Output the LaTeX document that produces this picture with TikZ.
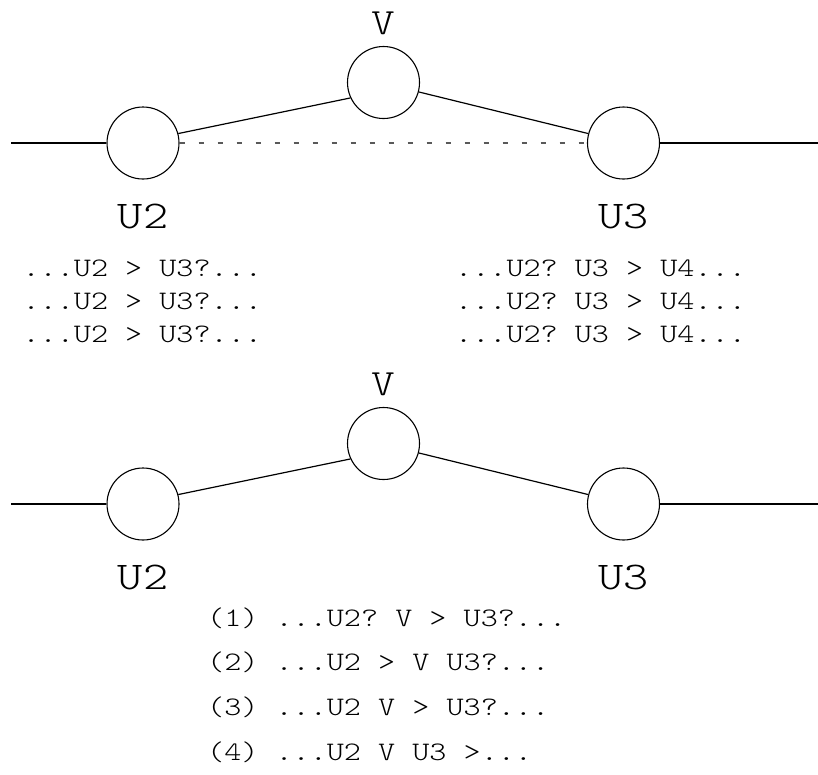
\documentclass[tikz,border=0pt]{standalone}
\usepackage{fontspec}
% light typewriter face, widened to a Courier-like set width
\newfontfamily\typefont{lmmonolt10-regular}[Extension=.otf,FakeStretch=1.22]
\begin{document}
\begin{tikzpicture}[x=1pt,y=-1pt,
  vertex/.style={circle,draw,line width=1.1pt,minimum size=72pt,inner sep=0pt},
  edge/.style={line width=1.2pt},
  hint/.style={dash pattern=on 5pt off 14pt,line width=1.2pt,draw=black!65},
  ulabel/.style={font=\fontsize{39.3}{39.3}\typefont\selectfont,anchor=base,inner sep=0pt},
  vlabel/.style={font=\fontsize{37}{37}\typefont\selectfont,anchor=base,inner sep=0pt},
  seq/.style={font=\fontsize{26.7}{26.7}\typefont\selectfont\frenchspacing,anchor=base west,inner sep=0pt}]
\useasboundingbox (0,0) rectangle (818,774);

% ---- upper chain, with the dashed shortcut U2 -- U3
\node[vertex] (a2) at (143,143) {};
\node[vertex] (av) at (383.5,82.5) {};
\node[vertex] (a3) at (623.5,143) {};
\coordinate (aL) at (11,143);
\coordinate (aR) at (818,143);
\draw[edge] (aL) -- (a2.west);
\draw[edge] (a3.east) -- (aR);
\draw[edge] (a2.15) -- (av.205);
\draw[edge] (av.345) -- (a3.165);
\draw[hint] (a2.east) -- (a3.west);
\node[ulabel] (a2t) at (143,228) {U2};
\node[ulabel] (a3t) at (623.5,228) {U3};
\node[vlabel] (avt) at (383.5,34.3) {V};

\node[seq] (l1) at (22.4,276.7) {...U2 > U3?...};
\node[seq] (l2) at (22.4,309.5) {...U2 > U3?...};
\node[seq] (l3) at (22.4,342.3) {...U2 > U3?...};
\node[seq] (r1) at (455,276.7) {...U2? U3 > U4...};
\node[seq] (r2) at (455,309.5) {...U2? U3 > U4...};
\node[seq] (r3) at (455,342.3) {...U2? U3 > U4...};

% ---- lower chain
\node[vertex] (b2) at (143,504) {};
\node[vertex] (bv) at (383.5,443.5) {};
\node[vertex] (b3) at (623.5,504) {};
\coordinate (bL) at (11,504);
\coordinate (bR) at (818,504);
\draw[edge] (bL) -- (b2.west);
\draw[edge] (b3.east) -- (bR);
\draw[edge] (b2.15) -- (bv.205);
\draw[edge] (bv.345) -- (b3.165);
\node[ulabel] (b2t) at (143,589) {U2};
\node[ulabel] (b3t) at (623.5,589) {U3};
\node[vlabel] (bvt) at (383.5,395.3) {V};

\node[seq] (o1) at (207,626) {(1) ...U2? V > U3?...};
\node[seq] (o2) at (207,670.7) {(2) ...U2 > V U3?...};
\node[seq] (o3) at (207,715.3) {(3) ...U2 V > U3?...};
\node[seq] (o4) at (207,760) {(4) ...U2 V U3 >...};
\end{tikzpicture}
\end{document}
